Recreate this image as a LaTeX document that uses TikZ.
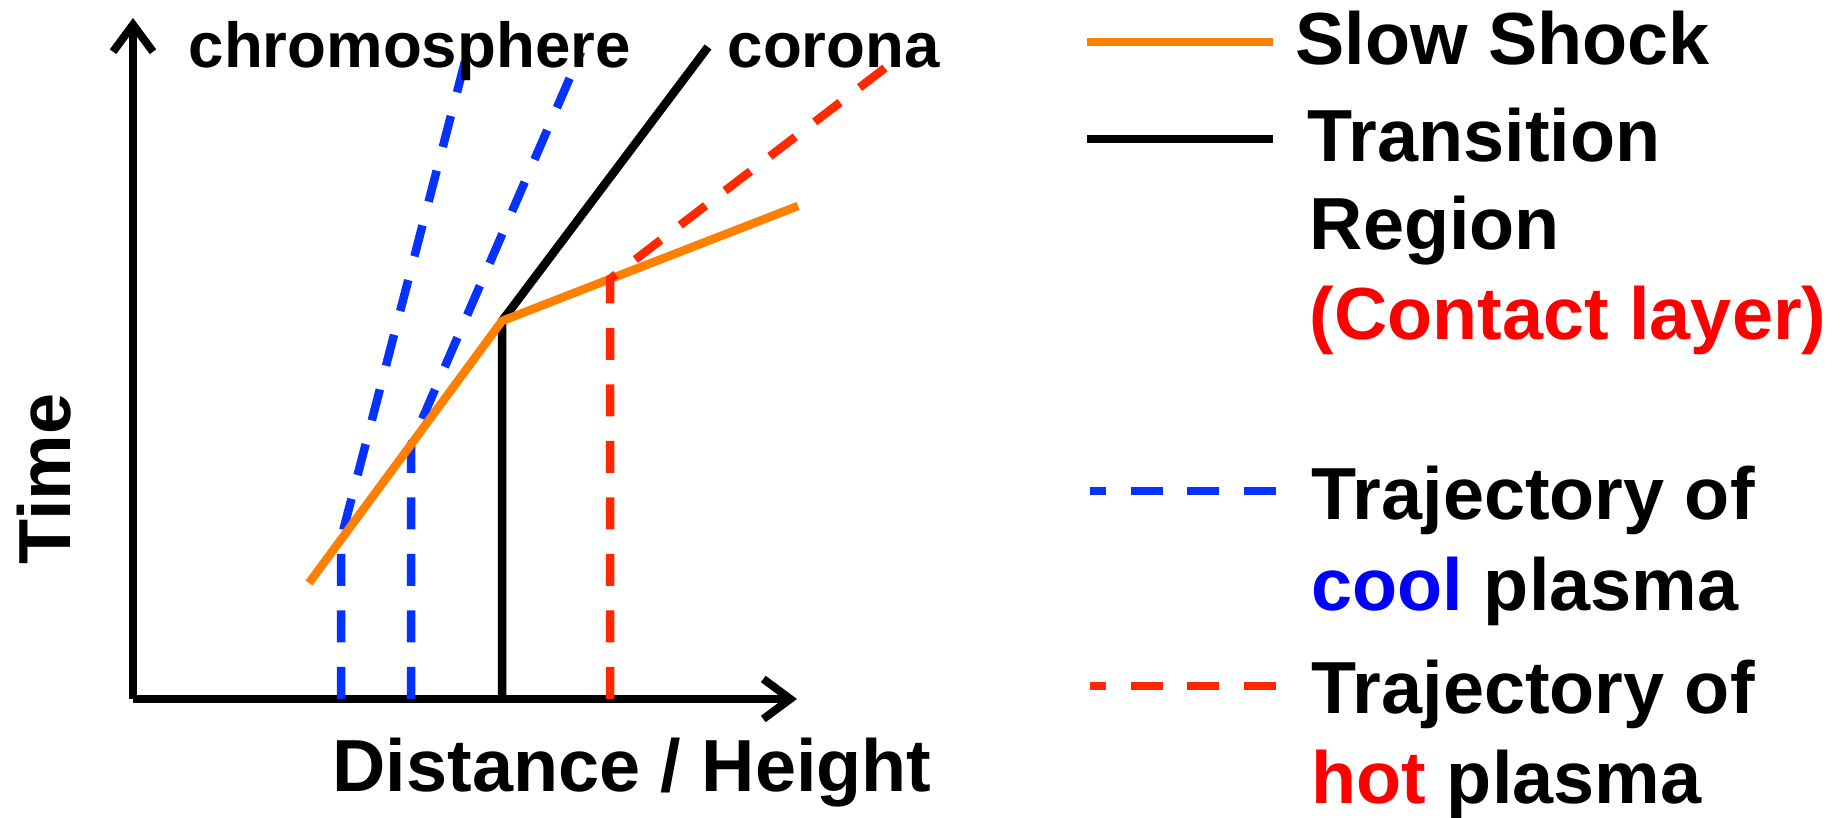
\documentclass[tikz,border=0pt]{standalone}
\usepackage{fontspec}
\setmainfont{Liberation Sans}
\usepackage{tikz}
\usetikzlibrary{arrows.meta}
\usepackage{xcolor}

\definecolor{shockorange}{RGB}{255,128,0}
\definecolor{coolblue}{RGB}{5,50,255}
\definecolor{hotred}{RGB}{255,40,0}
\definecolor{txtred}{RGB}{255,0,0}
\definecolor{txtblue}{RGB}{0,0,255}

\tikzset{
  axisline/.style={line width=0.08cm, -{Straight Barb[length=0.27cm,width=0.4cm]}},
  shockline/.style={shockorange, line width=0.085cm},
  trline/.style={black, line width=0.085cm},
  coolpath/.style={coolblue, line width=0.085cm, dash pattern=on 0.32cm off 0.245cm},
  hotpath/.style={hotred, line width=0.085cm, dash pattern=on 0.32cm off 0.245cm},
  bigtxt/.style={font=\fontsize{21}{25}\selectfont\bfseries, inner sep=0pt},
  smalltxt/.style={font=\fontsize{18.1}{22}\selectfont\bfseries, inner sep=0pt},
}

\begin{document}
\begin{tikzpicture}
\useasboundingbox (0,0) rectangle (18.41,8.18);
% axes
\coordinate (origin) at (1.33,1.19);
\coordinate (ytip) at (1.33,8.00);
\coordinate (xtip) at (7.97,1.19);
\draw[axisline] (origin) -- (ytip);
\draw[axisline] (origin) -- (xtip);

% points of the paths
\coordinate (shockA) at (3.09,2.35);
\coordinate (trKink) at (5.02,4.97);
\coordinate (shockB) at (7.98,6.12);
\coordinate (trTop) at (7.08,7.71);
\coordinate (trFoot) at (5.02,1.19);
\coordinate (coolAfoot) at (3.41,1.19);
\coordinate (coolAkink) at (3.41,2.79);
\coordinate (coolAtop) at (4.68,7.68);
\coordinate (coolBfoot) at (4.11,1.19);
\coordinate (coolBkink) at (4.11,3.73);
\coordinate (coolBtop) at (5.81,7.66);
\coordinate (hotFoot) at (6.10,1.19);
\coordinate (hotKink) at (6.10,5.39);
\coordinate (hotTop) at (9.02,7.63);

\draw[coolpath] (coolAfoot) -- (coolAkink) -- (coolAtop);
\draw[coolpath] (coolBfoot) -- (coolBkink) -- (coolBtop);
\draw[trline] (trFoot) -- (trKink) -- (trTop);
\draw[shockline] (shockA) -- (trKink) -- (shockB);
\draw[hotpath] (hotFoot) -- (hotKink) -- (hotTop);

% labels
\node[smalltxt, anchor=base west] (chromo) at (1.88,7.50) {chromosphere};
\node[smalltxt, anchor=base west] (corona) at (7.27,7.50) {corona};
\node[bigtxt, anchor=base, rotate=90] (time) at (0.70,3.39) {Time};
\node[bigtxt, anchor=base] (dist) at (6.32,0.26) {Distance / Height};

% legend
\coordinate (lgShockA) at (10.87,7.76);
\coordinate (lgShockB) at (12.73,7.76);
\coordinate (lgTrA) at (10.87,6.79);
\coordinate (lgTrB) at (12.73,6.79);
\coordinate (lgCoolA) at (10.90,3.27);
\coordinate (lgCoolB) at (12.76,3.27);
\coordinate (lgHotA) at (10.90,1.32);
\coordinate (lgHotB) at (12.76,1.32);
\draw[shockline] (lgShockA) -- (lgShockB);
\draw[trline] (lgTrA) -- (lgTrB);
\draw[coolpath, dash phase=0.16cm] (lgCoolA) -- (lgCoolB);
\draw[hotpath, dash phase=0.16cm] (lgHotA) -- (lgHotB);

\node[bigtxt, anchor=base west] (slow) at (12.95,7.53) {Slow Shock};
\node[bigtxt, anchor=base west] (trans) at (13.07,6.56) {Transition};
\node[bigtxt, anchor=base west] (region) at (13.09,5.68) {Region};
\node[bigtxt, anchor=base west, text=txtred] (contact) at (13.09,4.78) {(Contact layer)};
\node[bigtxt, anchor=base west] (coolA) at (13.11,2.98) {Trajectory of};
\node[bigtxt, anchor=base west] (coolB) at (13.11,2.07) {\textcolor{txtblue}{cool} plasma};
\node[bigtxt, anchor=base west] (hotA) at (13.11,1.04) {Trajectory of};
\node[bigtxt, anchor=base west] (hotB) at (13.11,0.14) {\textcolor{txtred}{hot} plasma};
\end{tikzpicture}
\end{document}
